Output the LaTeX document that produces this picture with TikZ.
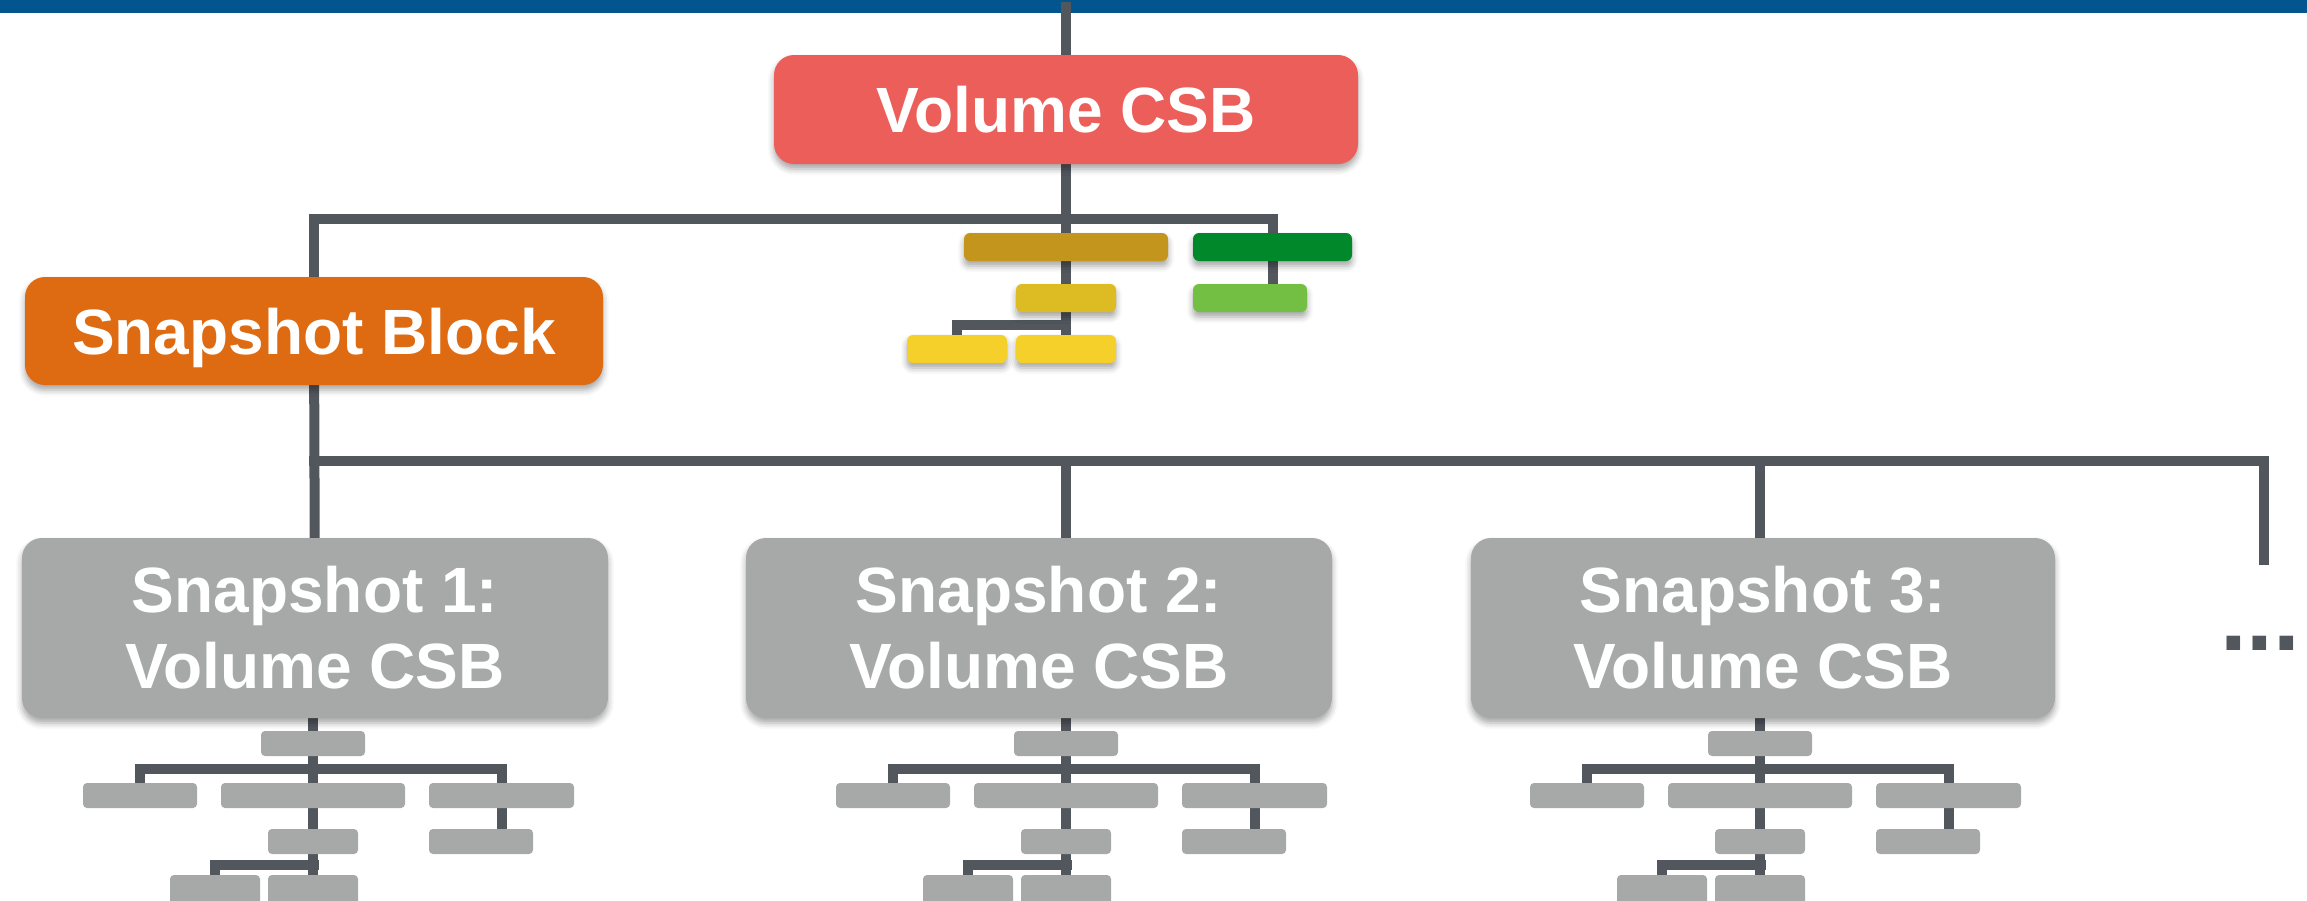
\documentclass[tikz,border=0pt]{standalone}
\usepackage{fontspec}
\setmainfont{Liberation Sans}
\usetikzlibrary{fit,shadows.blur,backgrounds}

\definecolor{barblue}{HTML}{03558F}
\definecolor{linegray}{HTML}{52575E}
\definecolor{csbred}{HTML}{EC5E59}
\definecolor{blockorange}{HTML}{DE6B12}
\definecolor{snapgray}{HTML}{A6A9A8}
\definecolor{darkgold}{HTML}{C4951D}
\definecolor{midgold}{HTML}{DCBB23}
\definecolor{lightgold}{HTML}{F5D02A}
\definecolor{darkgreen}{HTML}{00882B}
\definecolor{lightgreen}{HTML}{72BF43}

\tikzset{
  conn/.style={draw=linegray, line width=5pt, line cap=rect, line join=miter},
  shadowed/.style={blur shadow={shadow xshift=0pt, shadow yshift=-2.5pt,
      shadow blur radius=3pt, shadow opacity=35}},
  leaf/.style={inner sep=0pt, outer sep=0pt, rounded corners=3pt, shadowed},
  tinyleaf/.style={inner sep=0pt, outer sep=0pt, rounded corners=2pt, fill=snapgray},
  bigbox/.style={inner sep=0pt, outer sep=0pt, rounded corners=10pt, shadowed},
  boxtext/.style={text=white, align=center, inner sep=0pt,
      font=\bfseries\fontsize{32}{38}\selectfont},
}

\begin{document}
\begin{tikzpicture}[x=0.5pt, y=-0.5pt]
\useasboundingbox (0,0) rectangle (2307,900);
\clip (0,0) rectangle (2307,900);

% top-level volume CSB and the snapshot block
\node[bigbox, fill=csbred, fit={(774,55) (1358,164)},
      label={[boxtext, text depth=0pt]center:Volume CSB}] (vcsb) {};
\node[bigbox, fill=blockorange, fit={(25,277) (603,385)},
      label={[boxtext, text depth=0pt]center:Snapshot Block}] (sblock) {};

% coloured sub-blocks of the volume CSB
\node[leaf, fill=darkgold,   fit={(964,233) (1168,261)}]  (g1) {};
\node[leaf, fill=midgold,    fit={(1016,284) (1116,312)}] (g2) {};
\node[leaf, fill=lightgold,  fit={(907,335) (1007,363)}]  (y1) {};
\node[leaf, fill=lightgold,  fit={(1016,335) (1116,363)}] (y2) {};
\node[leaf, fill=darkgreen,  fit={(1193,233) (1352,261)}] (gr1) {};
\node[leaf, fill=lightgreen, fit={(1193,284) (1307,312)}] (gr2) {};

% snapshots
\node[bigbox, fill=snapgray, fit={(22,538) (608,718)},
      label={[boxtext]center:{Snapshot 1:\\Volume CSB}}] (s1) {};
\node[bigbox, fill=snapgray, fit={(746,538) (1332,718)},
      label={[boxtext]center:{Snapshot 2:\\Volume CSB}}] (s2) {};
\node[bigbox, fill=snapgray, fit={(1471,538) (2055,718)},
      label={[boxtext]center:{Snapshot 3:\\Volume CSB}}] (s3) {};

\node[anchor=base, text=linegray, font=\bfseries\fontsize{48}{50}\selectfont] (more) at (2260,650) {...};

% small grey trees below each snapshot
\foreach \i/\x in {1/314, 2/1067, 3/1761} {
  \node[tinyleaf, fit={({\x-53},731) ({\x+51},756)}]  (t\i-a)  {};
  \node[tinyleaf, fit={({\x-231},783) ({\x-117},808)}] (t\i-b1) {};
  \node[tinyleaf, fit={({\x-93},783) ({\x+91},808)}]  (t\i-b2) {};
  \node[tinyleaf, fit={({\x+115},783) ({\x+260},808)}] (t\i-b3) {};
  \node[tinyleaf, fit={({\x-46},829) ({\x+44},854)}]  (t\i-c1) {};
  \node[tinyleaf, fit={({\x+115},829) ({\x+219},854)}] (t\i-c2) {};
  \node[tinyleaf, fit={({\x-144},875) ({\x-54},910)}] (t\i-d1) {};
  \node[tinyleaf, fit={({\x-46},875) ({\x+44},910)}]  (t\i-d2) {};
  \coordinate (t\i-h) at (\x,769);
  \coordinate (t\i-k) at (\x,865);
}

\coordinate (top)    at (1066,7);
\coordinate (split)  at (1066,219);
\coordinate (ysplit) at (1066,325);
\coordinate (lower)  at (314,461);
\coordinate (tail)   at (2264,560);

\begin{scope}[on background layer]
  \fill[barblue] (0,0) rectangle (2307,13);
  % volume CSB trunk
  \draw[conn] (top) -- (vcsb.center) -- (vcsb.center |- y2.center);
  \draw[conn] (y1.center) |- (ysplit);
  % branch to snapshot block and green chain
  \draw[conn] (sblock.center) |- (split) -| (gr1.center) -- (gr1.center |- gr2.center);
  % snapshot block to the snapshots
  \draw[conn] (sblock.center) -- (s1.center);
  \draw[conn] (lower) -| (tail);
  \foreach \i in {2,3} {
    \draw[conn] (t\i-a |- lower) -- (t\i-a.center);
  }
  \foreach \i in {1,2,3} {
    \draw[conn] (s\i.center -| t\i-a) -- (t\i-a.center) -- (t\i-d2.center);
    \draw[conn] (t\i-b1.center) |- (t\i-h) -| (t\i-b3.center) -- (t\i-b3.center |- t\i-c2.center);
    \draw[conn] (t\i-d1.center) |- (t\i-k);
  }
\end{scope}
\end{tikzpicture}
\end{document}
